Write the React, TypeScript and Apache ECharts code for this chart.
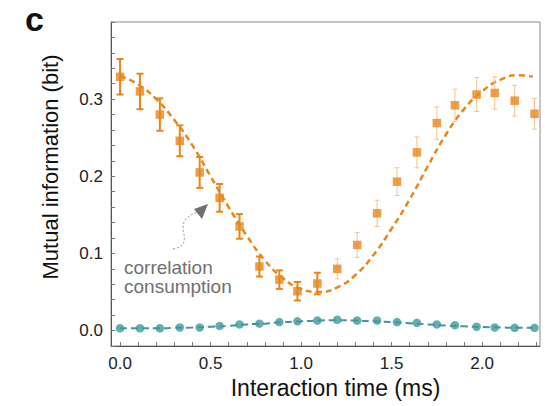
import React, { useEffect, useRef } from "react";
import * as echarts from "echarts";

// Measurement times (ms)
const times = [0, 0.11, 0.22, 0.33, 0.44, 0.55, 0.66, 0.77, 0.88, 0.98, 1.09, 1.2, 1.31, 1.42, 1.53, 1.64, 1.75, 1.85, 1.97, 2.07, 2.18, 2.29];
// Orange: mutual information with error bars
const orangeValues = [0.329, 0.31, 0.28, 0.246, 0.205, 0.172, 0.135, 0.083, 0.066, 0.051, 0.061, 0.08, 0.111, 0.152, 0.193, 0.231, 0.269, 0.292, 0.306, 0.308, 0.298, 0.281];
const orangeErrors = [0.023, 0.023, 0.021, 0.02, 0.02, 0.018, 0.016, 0.013, 0.012, 0.012, 0.014, 0.013, 0.016, 0.017, 0.018, 0.02, 0.021, 0.021, 0.022, 0.021, 0.02, 0.02];
// number of points drawn with the dark (thick) error bars
const darkErrorCount = 11;
// Teal: reference mutual information
const tealValues = [0.003, 0.003, 0.003, 0.004, 0.004, 0.006, 0.008, 0.009, 0.011, 0.012, 0.013, 0.014, 0.013, 0.013, 0.011, 0.01, 0.008, 0.007, 0.005, 0.004, 0.0035, 0.0035];
// Theory curves
const fitTimes = [0, 0.1, 0.2, 0.3, 0.4, 0.5, 0.6, 0.7, 0.8, 0.9, 1.0, 1.1, 1.2, 1.3, 1.4, 1.5, 1.6, 1.7, 1.8, 1.9, 2.0, 2.1, 2.2, 2.28];
const orangeFit = [0.33, 0.319, 0.3, 0.273, 0.24, 0.2, 0.16, 0.123, 0.091, 0.068, 0.054, 0.05, 0.056, 0.072, 0.098, 0.132, 0.17, 0.213, 0.254, 0.287, 0.31, 0.325, 0.331, 0.329];
const tealFit = [0.003, 0.003, 0.003, 0.0035, 0.004, 0.005, 0.006, 0.008, 0.009, 0.011, 0.012, 0.013, 0.0135, 0.013, 0.012, 0.011, 0.0095, 0.008, 0.0065, 0.0055, 0.0045, 0.004, 0.0035, 0.0035];
// Tick values and labels
const xTicks = [0, 0.1, 0.2, 0.3, 0.4, 0.5, 0.6, 0.7, 0.8, 0.9, 1.0, 1.1, 1.2, 1.3, 1.4, 1.5, 1.6, 1.7, 1.8, 1.9, 2.0, 2.1, 2.2, 2.3];
const xLabels = [0, 0.5, 1.0, 1.5, 2.0];
const yLabels = [0, 0.1, 0.2, 0.3];
const annotationLines = ["correlation", "consumption"];

const ORANGE = "#E8861A";
const ORANGE_LIGHT = "#F3C390";
const TEAL = "#3E989B";
const FONT = "'Liberation Sans', Arial, Helvetica, sans-serif";

export default function App() {
  const ref = useRef<HTMLDivElement>(null);
  useEffect(() => {
    if (!ref.current) return;
    const chart = echarts.init(ref.current, null, { renderer: "svg" });
    const errData = times.map((t, i) => [t, orangeValues[i] - orangeErrors[i], orangeValues[i] + orangeErrors[i], i >= darkErrorCount ? 1 : 0]);
    chart.setOption({
      animation: false,
      backgroundColor: "#fff",
      textStyle: { fontFamily: FONT },
      grid: { left: 111, right: 5, top: 22, bottom: 60, show: true, borderColor: "#8a8a8a", borderWidth: 1 },
      xAxis: {
        type: "value",
        min: -0.05,
        max: 2.32,
        name: "Interaction time (ms)",
        nameLocation: "middle",
        nameGap: 30,
        nameTextStyle: { fontSize: 23, color: "#111", fontFamily: FONT, padding: [0, 0, 0, 20] },
        axisLine: { show: true, onZero: false, lineStyle: { color: "#555", width: 1 } },
        axisTick: { show: true, inside: true, length: 4, customValues: xTicks, lineStyle: { color: "#777" } },
        axisLabel: { customValues: xLabels, fontSize: 17, color: "#222", margin: 9, formatter: (v: number) => v.toFixed(1) },
        splitLine: { show: false },
      },
      yAxis: {
        type: "value",
        min: -0.02,
        max: 0.4,
        interval: 0.02,
        axisLine: { show: true, onZero: false, lineStyle: { color: "#555", width: 1 } },
        axisTick: { show: true, inside: true, length: 4, lineStyle: { color: "#777" } },
        axisLabel: { customValues: yLabels, fontSize: 17, color: "#222", margin: 8, formatter: (v: number) => v.toFixed(1) },
        splitLine: { show: false },
      },
      graphic: [
        { type: "text", left: 25, top: 2, style: { text: "c", font: `bold 34px ${FONT}`, fill: "#111" } },
        {
          type: "text", x: 50, y: 167, rotation: Math.PI / 2,
          style: { text: "Mutual information (bit)", font: `22px ${FONT}`, fill: "#111", align: "center", verticalAlign: "middle" },
        },
        ...annotationLines.map((line, i) => ({
          type: "text", x: 124, y: 267 + i * 19.5,
          style: { text: line, font: `19px ${FONT}`, fill: "#707070", verticalAlign: "middle" },
        })),
        {
          type: "bezierCurve",
          shape: { x1: 173, y1: 249, cpx1: 200, cpy1: 244, cpx2: 166, cpy2: 222, x2: 198, y2: 212 },
          style: { stroke: "#9a9a9a", lineWidth: 1, lineDash: [2, 2], fill: "none" },
        },
        {
          type: "polygon",
          shape: { points: [[208, 204], [194, 209], [202, 219]] },
          style: { fill: "#707070" },
        },
      ],
      series: [
        {
          type: "line",
          data: fitTimes.map((t, i) => [t, tealFit[i]]),
          smooth: true,
          symbol: "none",
          lineStyle: { color: TEAL, width: 2, type: [7, 4] },
          z: 2,
        },
        {
          type: "line",
          data: fitTimes.map((t, i) => [t, orangeFit[i]]),
          smooth: true,
          symbol: "none",
          lineStyle: { color: ORANGE, width: 2.5, type: [6, 4] },
          z: 2,
        },
        {
          type: "custom",
          data: errData,
          encode: { x: 0, y: [1, 2] },
          z: 3,
          renderItem: (params: any, api: any) => {
            const x = api.value(0);
            const lo = api.coord([x, api.value(1)]);
            const hi = api.coord([x, api.value(2)]);
            const light = api.value(3) === 1;
            const hw = light ? 2.5 : 3.5;
            const style = { stroke: light ? ORANGE_LIGHT : ORANGE, lineWidth: light ? 1 : 2 };
            return {
              type: "group",
              children: [
                { type: "line", shape: { x1: lo[0], y1: lo[1], x2: hi[0], y2: hi[1] }, style },
                { type: "line", shape: { x1: lo[0] - hw, y1: lo[1], x2: lo[0] + hw, y2: lo[1] }, style },
                { type: "line", shape: { x1: hi[0] - hw, y1: hi[1], x2: hi[0] + hw, y2: hi[1] }, style },
              ],
            };
          },
        },
        {
          type: "scatter",
          data: times.map((t, i) => [t, orangeValues[i]]),
          symbol: "rect",
          symbolSize: 8.5,
          itemStyle: { color: ORANGE },
          z: 4,
        },
        {
          type: "scatter",
          data: times.map((t, i) => [t, tealValues[i]]),
          symbol: "circle",
          symbolSize: 8.5,
          itemStyle: { color: TEAL },
          z: 4,
        },
      ],
    });
    return () => chart.dispose();
  }, []);
  return <div ref={ref} style={{ position: "fixed", left: 0, top: 0, width: 545, height: 406 }} />;
}
